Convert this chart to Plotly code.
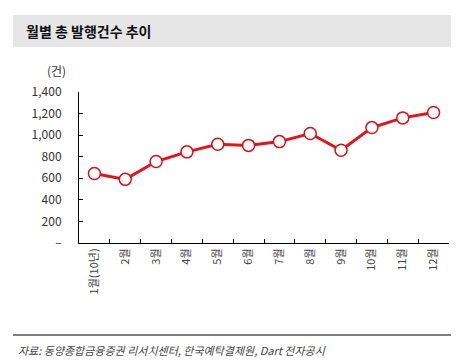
import plotly.graph_objects as go

months = ["1월(10년)", "2월", "3월", "4월", "5월", "6월", "7월", "8월", "9월", "10월", "11월", "12월"]
counts = [645, 590, 755, 845, 915, 905, 940, 1015, 860, 1070, 1160, 1210]
ytick_vals = [0, 200, 400, 600, 800, 1000, 1200, 1400]
ytick_text = ["–", "200", "400", "600", "800", "1,000", "1,200", "1,400"]

W, H = 459, 360
L, R, T, B = 71, 18, 84, 125
PW, PH = W - L - R, H - T - B

def px(x):
    return (x - L) / PW

def py(y):
    return (H - B - y) / PH

FONT = "Noto Sans CJK KR"

fig = go.Figure()
fig.add_trace(go.Scatter(
    x=months, y=counts, mode="lines+markers",
    line=dict(color="#e3141b", width=3),
    marker=dict(size=12, color="white", line=dict(color="#d2121a", width=1.5)),
    cliponaxis=False,
))

fig.update_layout(
    width=W, height=H,
    margin=dict(l=L, r=R, t=T, b=B),
    paper_bgcolor="white", plot_bgcolor="white",
    showlegend=False,
    font=dict(family=FONT, color="#333333", size=12),
    xaxis=dict(
        type="category", showline=True, linecolor="black", linewidth=1,
        ticks="inside", ticklen=4, tickcolor="black", tickson="boundaries",
        tickangle=-90, showgrid=False, zeroline=False,
        tickfont=dict(size=11, color="#444444"),
        range=[-0.5, 11.5],
    ),
    yaxis=dict(
        range=[0, 1400], showline=True, linecolor="black", linewidth=1,
        ticks="inside", ticklen=4, tickcolor="black",
        tickvals=ytick_vals, ticktext=ytick_text,
        showgrid=False, zeroline=False, ticklabelstandoff=14,
        tickfont=dict(size=12, color="#333333"),
    ),
    shapes=[
        dict(type="rect", xref="paper", yref="paper",
             x0=px(5), x1=px(447), y0=py(39), y1=py(7),
             fillcolor="#e6e6e6", line=dict(width=0), layer="below"),
        dict(type="line", xref="paper", yref="paper",
             x0=px(5), x1=px(447), y0=py(327), y1=py(327),
             line=dict(color="black", width=1)),
    ],
    annotations=[
        dict(text="<b>월별 총 발행건수 추이</b>", xref="paper", yref="paper",
             x=px(16), y=py(23), xanchor="left", yanchor="middle",
             showarrow=False, font=dict(size=14, color="#111111", family=FONT)),
        dict(text="(건)", xref="paper", yref="paper",
             x=px(48), y=py(63), xanchor="center", yanchor="middle",
             showarrow=False, font=dict(size=12, color="#333333", family=FONT)),
        dict(text="<i>자료: 동양종합금융증권 리서치센터, 한국예탁결제원, Dart 전자공시</i>",
             xref="paper", yref="paper",
             x=px(8), y=py(342), xanchor="left", yanchor="middle",
             showarrow=False, font=dict(size=11, color="#444444", family=FONT)),
    ],
)

fig.write_html("out.html")
